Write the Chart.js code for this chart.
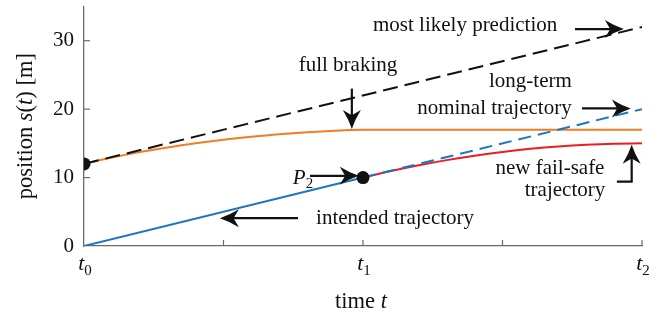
<!DOCTYPE html>
<html>
<head>
<meta charset="utf-8">
<script src="https://cdn.jsdelivr.net/npm/chart.js@4.4.1/dist/chart.umd.min.js"></script>
<style>
  html, body { margin: 0; padding: 0; background: #fff; }
  #chart { display: block; }
</style>
</head>
<body>
<canvas id="chart" width="671" height="320"></canvas>
<script>
const SERIF = "'Liberation Serif', 'DejaVu Serif', serif";

const COLORS = {
  blue: '#1b76c2',
  orange: '#f27c22',
  red: '#ec1c24',
  black: '#111111',
  axis: '#6a6a6a'
};

// time axis: t0 = 0, t1 = 1, t2 = 2
const X_TICKS = [0, 0.5, 1, 1.5, 2];
const X_TICK_SUBS = { 0: '0', 1: '1', 2: '2' };
const Y_TICKS = [0, 10, 20, 30];

// series
const intendedT = [0, 1];
const intendedS = [0, 10];
const nominalT = [1, 2];
const nominalS = [10, 20];
const predictionT = [0, 2];
const predictionS = [12, 32];
const brakingT = [0, 0.1, 0.2, 0.3, 0.4, 0.5, 0.6, 0.7, 0.8, 0.9, 1.0, 1.1, 1.2, 1.4, 1.6, 1.8, 2.0];
const brakingS = [12, 12.92, 13.72, 14.4, 15.0, 15.52, 15.96, 16.34, 16.64, 16.86, 16.98, 17, 17, 17, 17, 17, 17];
const failSafeT = [1, 1.1, 1.2, 1.3, 1.4, 1.5, 1.6, 1.7, 1.8, 1.9, 2.0];
const failSafeS = [10, 10.95, 11.8, 12.55, 13.2, 13.75, 14.2, 14.55, 14.8, 14.95, 15];
const markerT = [0, 1];
const markerS = [12, 10];

const pts = (xs, ys) => xs.map((x, i) => ({ x, y: ys[i] }));

/* --- annotations (data coordinates) --- */
const LABELS = [
  { parts: [['most likely prediction']], x: 1.366, y: 32.2 },
  { parts: [['full braking']], x: 0.946, y: 26.4 },
  { parts: [['long-term']], x: 1.6, y: 24.1 },
  { parts: [['nominal trajectory']], x: 1.471, y: 20.1 },
  { parts: [['new fail-safe']], x: 1.67, y: 11.3 },
  { parts: [['trajectory']], x: 1.724, y: 8.1 },
  { parts: [['P', 'i'], ['2', 'sub']], x: 0.785, y: 9.9 },
  { parts: [['intended trajectory']], x: 1.115, y: 4.0 }
];

const ARROWS = [
  [[1.76, 31.7], [1.935, 31.7]],
  [[0.96, 23.0], [0.96, 17.1]],
  [[1.785, 20.1], [1.96, 20.1]],
  [[1.91, 9.4], [1.963, 9.4], [1.963, 14.8]],
  [[0.81, 10.25], [0.985, 10.25]],
  [[0.767, 4.06], [0.487, 4.06]]
];

function drawRich(ctx, parts, x, y, size, align) {
  const fonts = parts.map(([t, st]) => {
    if (st === 'i') return `italic ${size}px ${SERIF}`;
    if (st === 'sub') return `${Math.round(size * 0.7)}px ${SERIF}`;
    return `${size}px ${SERIF}`;
  });
  let total = 0;
  const widths = parts.map(([t], i) => { ctx.font = fonts[i]; const w = ctx.measureText(t).width; total += w; return w; });
  let cx = align === 'center' ? x - total / 2 : x;
  ctx.textAlign = 'left';
  ctx.textBaseline = 'middle';
  parts.forEach(([t, st], i) => {
    ctx.font = fonts[i];
    ctx.fillText(t, cx, st === 'sub' ? y + size * 0.3 : y);
    cx += widths[i];
  });
}

function arrowHead(ctx, x, y, angle) {
  const len = 19, half = 9;
  ctx.save();
  ctx.translate(x, y);
  ctx.rotate(angle);
  ctx.beginPath();
  ctx.moveTo(0, 0);
  ctx.quadraticCurveTo(-len * 0.5, -half * 0.35, -len, -half);
  ctx.lineTo(-len * 0.72, 0);
  ctx.lineTo(-len, half);
  ctx.quadraticCurveTo(-len * 0.5, half * 0.35, 0, 0);
  ctx.closePath();
  ctx.fill();
  ctx.restore();
}

const overlay = {
  id: 'overlay',
  afterDatasetsDraw(chart) {
    const { ctx, scales: { x, y }, chartArea } = chart;
    ctx.save();

    // inward tick marks
    ctx.strokeStyle = COLORS.axis;
    ctx.lineWidth = 1.2;
    X_TICKS.slice(1).forEach(v => {
      const px = x.getPixelForValue(v);
      ctx.beginPath(); ctx.moveTo(px, chartArea.bottom); ctx.lineTo(px, chartArea.bottom - 6); ctx.stroke();
    });
    Y_TICKS.slice(1).forEach(v => {
      const py = y.getPixelForValue(v);
      ctx.beginPath(); ctx.moveTo(chartArea.left, py); ctx.lineTo(chartArea.left + 6, py); ctx.stroke();
    });

    // x tick labels t0, t1, t2
    ctx.fillStyle = COLORS.black;
    Object.keys(X_TICK_SUBS).forEach(k => {
      drawRich(ctx, [['t', 'i'], [X_TICK_SUBS[k], 'sub']], x.getPixelForValue(+k) + 1, chartArea.bottom + 18, 22, 'center');
    });

    // axis titles
    drawRich(ctx, [['time '], ['t', 'i']], (chartArea.left + chartArea.right) / 2 - 2, 302, 22.5, 'center');
    ctx.save();
    ctx.translate(26, (chartArea.top + chartArea.bottom) / 2);
    ctx.rotate(-Math.PI / 2);
    drawRich(ctx, [['position '], ['s', 'i'], ['('], ['t', 'i'], [') [m]']], 0, 0, 22.5, 'center');
    ctx.restore();

    // annotation text
    LABELS.forEach(l => drawRich(ctx, l.parts, x.getPixelForValue(l.x), y.getPixelForValue(l.y), 21, 'center'));

    // arrows
    ctx.strokeStyle = COLORS.black;
    ctx.fillStyle = COLORS.black;
    ctx.lineWidth = 2.2;
    ARROWS.forEach(path => {
      const p = path.map(([dx, dy]) => [x.getPixelForValue(dx), y.getPixelForValue(dy)]);
      const [ax, ay] = p[p.length - 2];
      const [bx, by] = p[p.length - 1];
      const ang = Math.atan2(by - ay, bx - ax);
      ctx.beginPath();
      ctx.moveTo(p[0][0], p[0][1]);
      for (let i = 1; i < p.length - 1; i++) ctx.lineTo(p[i][0], p[i][1]);
      ctx.lineTo(bx - Math.cos(ang) * 11, by - Math.sin(ang) * 11);
      ctx.stroke();
      arrowHead(ctx, bx, by, ang);
    });
    ctx.restore();
  }
};

new Chart(document.getElementById('chart'), {
  type: 'line',
  data: {
    datasets: [
      { label: 'markers', data: pts(markerT, markerS), showLine: false, pointRadius: 6.5,
        pointBackgroundColor: COLORS.black, pointBorderWidth: 0, order: 0 },
      { label: 'most likely prediction', data: pts(predictionT, predictionS), borderColor: COLORS.black,
        borderWidth: 2, borderDash: [15, 7], pointRadius: 0, order: 1 },
      { label: 'long-term nominal trajectory', data: pts(nominalT, nominalS), borderColor: COLORS.blue,
        borderWidth: 2, borderDash: [13, 7], pointRadius: 0, order: 2 },
      { label: 'intended trajectory', data: pts(intendedT, intendedS), borderColor: COLORS.blue,
        borderWidth: 2, pointRadius: 0, order: 3 },
      { label: 'full braking', data: pts(brakingT, brakingS), borderColor: COLORS.orange,
        borderWidth: 2, pointRadius: 0, cubicInterpolationMode: 'monotone', order: 4 },
      { label: 'new fail-safe trajectory', data: pts(failSafeT, failSafeS), borderColor: COLORS.red,
        borderWidth: 2, pointRadius: 0, cubicInterpolationMode: 'monotone', order: 5 }
    ]
  },
  options: {
    responsive: false,
    animation: false,
    devicePixelRatio: 1,
    layout: { padding: { left: 0, right: 29, top: 5, bottom: 0 } },
    plugins: { legend: { display: false }, tooltip: { enabled: false } },
    scales: {
      x: {
        type: 'linear', min: 0, max: 2,
        grid: { display: false },
        border: { display: true, color: COLORS.axis, width: 1.3 },
        ticks: { display: false, stepSize: 0.5 },
        afterFit: s => { s.height = 74; s.paddingLeft = 0; s.paddingRight = 0; }
      },
      y: {
        min: 0, max: 35,
        grid: { display: false, drawTicks: false },
        border: { display: true, color: COLORS.axis, width: 1.3 },
        ticks: { stepSize: 10, includeBounds: false, padding: 10, color: COLORS.black,
                 font: { family: SERIF, size: 21 } },
        afterFit: s => { s.width = 84; s.paddingTop = 0; s.paddingBottom = 0; }
      }
    }
  },
  plugins: [overlay]
});
</script>
</body>
</html>
